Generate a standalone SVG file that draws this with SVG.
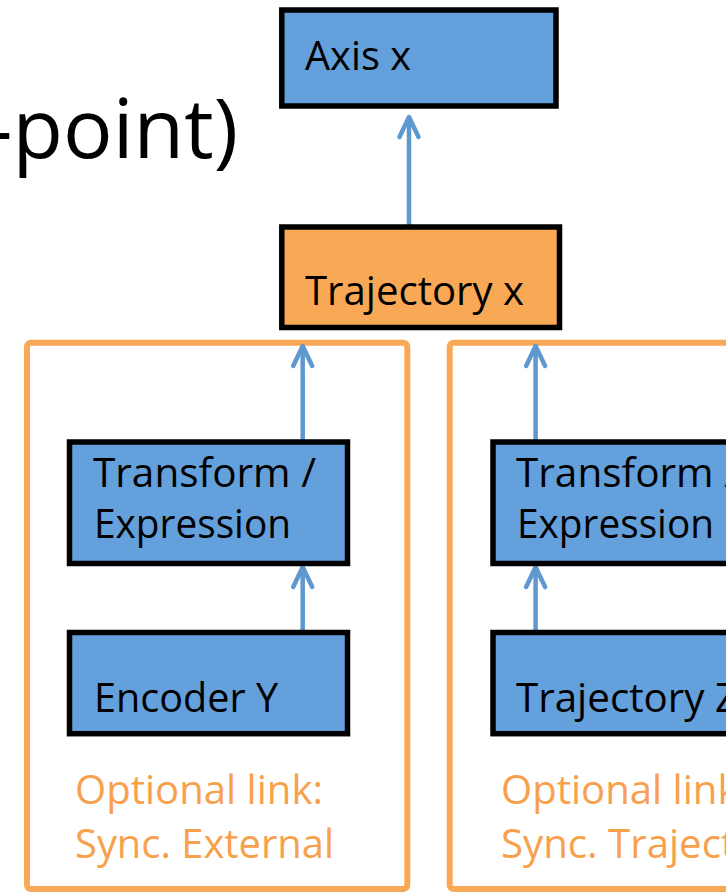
<svg xmlns="http://www.w3.org/2000/svg" width="726" height="895" viewBox="0 0 726 895">
  <style>
    .box { stroke: #000; stroke-width: 5.5; }
    .blue { fill: #64a0db; }
    .amber { fill: #f9a855; }
    .group { fill: none; stroke: #f9a857; stroke-width: 6; }
    .lbl { font-family: "Open Sans", "Noto Sans", sans-serif; font-size: 40px; fill: #000; }
    .note { font-family: "Open Sans", "Noto Sans", sans-serif; font-size: 40px; fill: #f8a04c; }
    .title { font-family: "Open Sans", "Noto Sans", sans-serif; font-size: 82px; fill: #000; }
    .link { fill: none; stroke: #5e98cf; stroke-width: 4.5; }
  </style>
  <defs>
    <marker id="head" markerUnits="userSpaceOnUse" orient="auto" refX="0" refY="0"
            markerWidth="30" markerHeight="30" viewBox="-25 -15 30 30" overflow="visible">
      <path d="M -20 -9.5 L 0 0 L -20 9.5" fill="none" stroke="#5e98cf" stroke-width="4.5"
            stroke-linecap="round" stroke-linejoin="round"/>
    </marker>
  </defs>

  <rect width="726" height="895" fill="#fff"/>

  <!-- slide title, cut by the frame -->
  <text class="title" x="-14" y="157.5" textLength="252" lengthAdjust="spacingAndGlyphs">-point)</text>

  <!-- optional link frames -->
  <g id="frame-left">
    <rect class="group" x="27" y="342.7" width="380.3" height="546.3" rx="4"/>
    <text class="note" x="75" y="804" textLength="248" lengthAdjust="spacingAndGlyphs">Optional link:</text>
    <text class="note" x="75" y="858" textLength="259" lengthAdjust="spacingAndGlyphs">Sync. External</text>
  </g>
  <g id="frame-right">
    <rect class="group" x="449.7" y="342.7" width="400" height="546.3" rx="4"/>
    <text class="note" x="501" y="804" textLength="248" lengthAdjust="spacingAndGlyphs">Optional link:</text>
    <text class="note" x="501" y="858" textLength="295" lengthAdjust="spacingAndGlyphs">Sync. Trajectory</text>
  </g>

  <!-- connectors -->
  <g id="connectors">
    <line class="link" x1="409" y1="227" x2="409" y2="117" marker-end="url(#head)"/>
    <line class="link" x1="302.7" y1="442" x2="302.7" y2="346" marker-end="url(#head)"/>
    <line class="link" x1="302.7" y1="632.5" x2="302.7" y2="567" marker-end="url(#head)"/>
    <line class="link" x1="535.6" y1="442" x2="535.6" y2="346" marker-end="url(#head)"/>
    <line class="link" x1="535.6" y1="632.5" x2="535.6" y2="567" marker-end="url(#head)"/>
  </g>

  <g id="axis-x">
    <rect class="box blue" x="281.8" y="10" width="274.2" height="96"/>
    <text class="lbl" x="305" y="70" textLength="106" lengthAdjust="spacingAndGlyphs">Axis x</text>
  </g>

  <g id="trajectory-x">
    <rect class="box amber" x="281.8" y="227" width="277.7" height="100.5"/>
    <text class="lbl" x="305" y="305" textLength="219" lengthAdjust="spacingAndGlyphs">Trajectory x</text>
  </g>

  <g id="transform-left">
    <rect class="box blue" x="69.5" y="442" width="278" height="121.5"/>
    <text class="lbl" x="93" y="487" textLength="223" lengthAdjust="spacingAndGlyphs">Transform /</text>
    <text class="lbl" x="94" y="538" textLength="197" lengthAdjust="spacingAndGlyphs">Expression</text>
  </g>

  <g id="encoder-y">
    <rect class="box blue" x="69.5" y="632.5" width="278" height="101.2"/>
    <text class="lbl" x="94" y="712" textLength="184" lengthAdjust="spacingAndGlyphs">Encoder Y</text>
  </g>

  <g id="transform-right">
    <rect class="box blue" x="493" y="442" width="278" height="121.5"/>
    <text class="lbl" x="516" y="487" textLength="223" lengthAdjust="spacingAndGlyphs">Transform /</text>
    <text class="lbl" x="517" y="538" textLength="197" lengthAdjust="spacingAndGlyphs">Expression</text>
  </g>

  <g id="trajectory-z">
    <rect class="box blue" x="493" y="632.5" width="278" height="101.2"/>
    <text class="lbl" x="516" y="712" textLength="222" lengthAdjust="spacingAndGlyphs">Trajectory Z</text>
  </g>
</svg>
